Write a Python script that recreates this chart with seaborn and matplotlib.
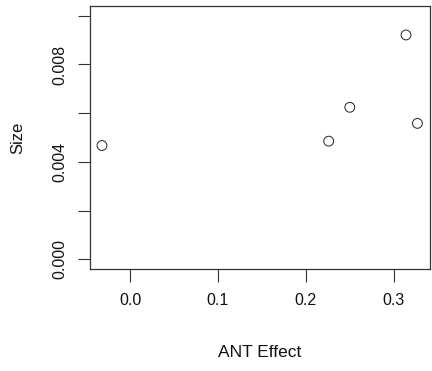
import pandas as pd
import matplotlib
matplotlib.use("Agg")
import matplotlib.pyplot as plt
import seaborn as sns

# data
ant_effect = [-0.032, 0.226, 0.250, 0.314, 0.327]
size = [0.00467, 0.00485, 0.00624, 0.00921, 0.00558]

y_ticks = [0.000, 0.002, 0.004, 0.006, 0.008, 0.010]
y_labels = ["0.000", "", "0.004", "", "0.008", ""]
x_ticks = [0.0, 0.1, 0.2, 0.3]
x_labels = ["0.0", "0.1", "0.2", "0.3"]

df = pd.DataFrame({"ANT Effect": ant_effect, "Size": size})

sns.set_style("ticks")
plt.rcParams["font.family"] = ["Liberation Sans", "DejaVu Sans"]

fig = plt.figure(figsize=(4.32, 3.71), dpi=100)
ax = fig.add_axes([89.5 / 432, 1 - 269 / 371, 340.5 / 432, 263 / 371])

sns.scatterplot(data=df, x="ANT Effect", y="Size", ax=ax, marker="o", s=50,
                facecolor="none", edgecolor="#222222", linewidth=0.7)

ax.set_xlim(-0.0462, 0.3413)
ax.set_ylim(-0.0004, 0.0104)
ax.set_xticks(x_ticks)
ax.set_xticklabels(x_labels)
ax.set_yticks(y_ticks)
ax.set_yticklabels(y_labels, rotation=90, va="center")

ax.tick_params(axis="both", direction="out", length=9, width=0.8, color="#333333",
               labelsize=11.5, labelcolor="#111111")
ax.tick_params(axis="x", pad=8)
ax.tick_params(axis="y", pad=7)
for sp in ax.spines.values():
    sp.set_visible(True)
    sp.set_color("#333333")
    sp.set_linewidth(0.9)

ax.set_xlabel("ANT Effect", fontsize=12.5, color="#111111")
ax.set_ylabel("Size", fontsize=12, color="#111111")
ax.xaxis.set_label_coords(0.5, -0.289)
ax.yaxis.set_label_coords(-0.19, 0.5)

fig.savefig("out.png", dpi=100)
